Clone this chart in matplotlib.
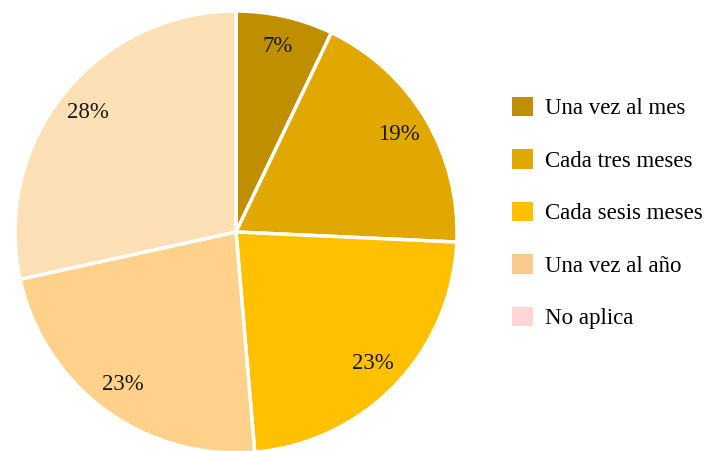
import matplotlib.pyplot as plt
from matplotlib.patches import Patch

plt.rcParams['font.family'] = ['Liberation Serif', 'DejaVu Serif']

# slices as drawn, clockwise from 12 o'clock
slice_values = [7.1, 18.6, 22.9, 22.9, 28.4]
slice_colors = ['#BF8F00', '#E0A800', '#FFC000', '#FFD18A', '#FDE0B5']

# legend entries
categories = ['Una vez al mes', 'Cada tres meses', 'Cada sesis meses',
              'Una vez al año', 'No aplica']
legend_colors = ['#BF8F00', '#E0A800', '#FFC000', '#F8CB8C', '#FFD5D5']

fig = plt.figure(figsize=(7.12, 4.51), dpi=100)
ax = fig.add_axes([15 / 712, -2 / 451, 442 / 712, 442 / 451])

wedges, texts, autotexts = ax.pie(
    slice_values, colors=slice_colors, startangle=90, counterclock=False,
    autopct='%.0f%%', pctdistance=0.86,
    wedgeprops=dict(edgecolor='white', linewidth=2.5),
    textprops=dict(fontsize=16.5, color='#1a1a1a'))
ax.set_xlim(-1, 1)
ax.set_ylim(-1, 1)
ax.set_aspect('equal')

handles = [Patch(facecolor=c, edgecolor='none') for c in legend_colors]
fig.legend(handles, categories, loc='center left',
           bbox_to_anchor=(491 / 712, 1 - 213 / 451), frameon=False,
           fontsize=16.5, labelspacing=1.3, handlelength=0.95,
           handleheight=0.95, handletextpad=0.5)

plt.savefig('out.png')
